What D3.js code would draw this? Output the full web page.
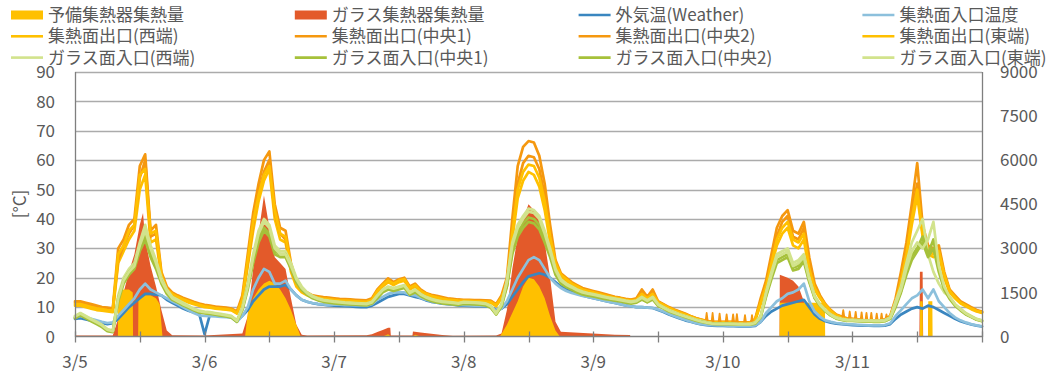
<!DOCTYPE html>
<html><head><meta charset="utf-8">
<script src="https://cdn.jsdelivr.net/npm/d3@7"></script>
<style>
html,body{margin:0;padding:0;background:#fff;}
svg text{font-family:"Noto Sans CJK JP","Noto Sans",sans-serif;fill:#595959;}
</style></head>
<body>
<svg id="chart" width="1051" height="376"></svg>
<script>
// ---------- data (hourly from 3/5 00:00, 169 points) ----------
const dayLabels = ["3/5","3/6","3/7","3/8","3/9","3/10","3/11"];
const leftTicks = [0,10,20,30,40,50,60,70,80,90];
const rightTicks = [0,1500,3000,4500,6000,7500,9000];

const outdoor = [
 6,6.2,5.8,5.4,5,4.6, 4.2,4.5,6,8,10,11.5, 13,14.5,14.5,14.2,14,12.5, 11.5,10.5,9.5,8.8,8.2,7.8,
 0.8,7.5,7.3,7.1,6.9,6.7, 5.5,7,9,12,14,16, 17,17,17,17.5,16,14, 12.5,11.8,11.3,11,10.8,10.6,
 10.5,10.4,10.3,10.2,10.1,10, 10,10.5,11.5,12.5,13.5,14, 14.5,14.5,14,13.5,13,12.3, 11.8,11.5,11.2,11,10.8,10.6,
 10.5,10.4,10.3,10.3,10.2,10.1, 9,9.5,11,13.5,16,18.5, 20.5,21,21.5,21,20,18.5, 17,16,15.2,14.6,14,13.5,
 13,12.6,12.2,11.8,11.4,11, 10.6,10.3,10,10,9.8,9.7, 9,8.3,7.5,6.8,6.1,5.5, 5,4.5,4.1,3.9,3.7,3.6,
 3.6,3.5,3.5,3.4,3.4,3.4, 3.6,5,7,8.5,9.5,10.5, 11,11.5,12,12.5,10,7.5, 6,5.2,4.7,4.4,4.2,4,
 3.9,3.8,3.7,3.7,3.6,3.6, 3.7,4.2,6,7.5,8.5,9.5, 10,9.5,10.5,10,9,8, 7,6,5.2,4.6,4.1,3.7, 3.4];

const inletTemp = [
 6.5,7,6.5,6,5.5,5, 4.6,4.8,7,9,11,13, 16,18,16,15,14,13, 12,11,10,9,8,7.2,
 7,6.9,6.8,6.7,6.6,6.4, 5,7,10,16,20,23, 22,18,18,19,16,14, 12.5,11.8,11.4,11.1,10.9,10.7,
 10.8,10.8,10.7,10.7,10.6,10.6, 10.5,11,12.5,13.5,14.5,15, 15,15,14.2,14,13.2,12.5, 12,11.6,11.3,11.1,10.9,10.8,
 10.7,10.6,10.5,10.5,10.4,10.3, 8.5,9.5,12,16,20,23, 26,27,26,23,20,18, 16.5,15.5,14.8,14.3,13.8,13.5,
 13,12.6,12.2,11.8,11.4,11, 10.6,10.3,10,10,9.8,9.7, 9.2,8.5,7.7,7,6.3,5.7, 5.1,4.6,4.2,4,3.9,3.8,
 3.8,3.7,3.7,3.6,3.6,3.6, 3.8,5,8,10,12,13, 14.5,15,16,18,12,8.5, 6.7,5.5,5,4.6,4.4,4.2,
 4.1,4,3.9,3.8,3.8,3.8, 3.9,4.5,7,9,11,13, 14,16,13,16,12,10, 8,6.5,5.5,4.8,4.2,3.8, 3.5];

const outWest = [
 10.5,10.5,10,9.5,9,8.8, 8.5,8.3,25,29,33,36, 50,55,32,33,20,15.5, 14,13,12.3,11.6,11,10.5,
 10,9.8,9.5,9.3,9.1,8.9, 7.8,12,24,36,46,53, 57,40,33,32,22,17, 15,14,13.3,12.9,12.6,12.4,
 12.2,12,11.9,11.8,11.7,11.6, 11.5,12.2,15,17,18.5,17.5, 18.5,19,16,17,15,14, 13.5,13,12.6,12.3,12.1,11.9,
 11.8,11.8,11.7,11.7,11.6,11.5, 10.3,13,17,33,47,53, 56,55,51,43,32,24, 20,18.8,17.5,16.5,15.7,15.2,
 14.7,14.3,13.8,13.4,13,12.7, 12.3,12.1,12.3,13.5,12.8,13.8, 11.5,10.5,9.5,8.7,8,7.3, 6.6,5.9,5.4,5,4.7,4.7,
 4.7,4.7,4.7,4.5,4.5,4.5, 5.5,11,16,24,31,35, 37,31,30,33,22,16, 13,10.5,8.5,7,6.3,5.8,
 5.7,5.5,5.3,5.2,5.2,5.2, 5.5,6.5,11,18,27,38, 48,34,28,27,28,20, 15,13,11.3,10.3,9.3,8.5, 8];

const outCenter1 = [
 12,12,11.5,11,10.5,10, 9.8,9.5,30,33,38,40, 58,62,36,38,22,17, 15,14,13.2,12.5,11.8,11.2,
 10.8,10.5,10.2,10,9.8,9.5, 8.5,14,28,42,52,60, 63,45,37,36,25,19, 16,15,14,13.7,13.4,13.2,
 13,12.8,12.7,12.6,12.5,12.4, 12.3,13,16,18,19.8,18.5, 19.5,20,17,18,16,14.8, 14.2,13.8,13.4,13,12.8,12.6,
 12.5,12.5,12.4,12.4,12.3,12.2, 11,14,20,40,58,64.5, 66.5,66,61.5,52,38,26, 21.5,20,18.5,17.5,16.5,16,
 15.5,15,14.5,14,13.5,13.2, 12.8,12.6,13,16,13.5,16, 12,11,10,9.2,8.5,7.8, 7,6.3,5.8,5.3,5,5,
 5,5,5,4.8,4.8,4.8, 6,13,19,28,37,41, 43,36,35,39,27,18, 14,11,9,7.5,6.8,6.2,
 6,5.8,5.6,5.5,5.5,5.5, 5.8,7,13,22,32,45, 59,38,31,30,31,22, 16,14,12,11,10,9, 8.5];

const outCenter2 = [
 11.5,11.5,11,10.5,10,9.6, 9.4,9.2,26,31,35,38, 54,60,34,35,21,16.5, 14.5,13.6,12.9,12.2,11.5,11,
 10.5,10.2,10,9.8,9.6,9.3, 8.3,13,25,38,49,56, 60,42,35,33,23,18, 15.5,14.5,13.7,13.4,13.1,12.9,
 12.7,12.5,12.4,12.3,12.2,12.1, 12,12.6,15.5,17.5,19,18, 19,19.5,16.5,17.5,15.5,14.5, 14,13.5,13.1,12.8,12.6,12.4,
 12.3,12.3,12.2,12.2,12.1,12, 10.8,13.5,18,36,52,59, 61.5,61,57,48,35,25, 21,19.5,18,17,16.2,15.7,
 15.2,14.7,14.2,13.8,13.3,13, 12.6,12.4,12.6,15,13.2,15, 11.8,10.8,9.8,9,8.3,7.6, 6.9,6.2,5.7,5.2,4.9,4.9,
 4.9,4.9,4.9,4.7,4.7,4.7, 5.8,12,18,26,34,39, 41,34,33,37,25,17, 13.5,10.8,8.8,7.3,6.6,6,
 5.9,5.7,5.5,5.4,5.4,5.4, 5.7,6.8,12,20,30,42, 52,36,30,29,30,21, 15.5,13.5,11.7,10.7,9.7,8.8, 8.3];

const outEast = [
 11,11,10.5,10,9.6,9.3, 9,8.8,28,31,36,38, 55,57,35,36,21,16, 14.5,13.5,12.7,12,11.3,10.8,
 10.3,10,9.7,9.5,9.3,9.1, 8,12.5,26,39,48,55, 58,43,35,34,24,18, 15.5,14.5,13.6,13.2,12.9,12.7,
 12.5,12.3,12.2,12.1,12,11.9, 11.8,12.4,15.5,17.5,19,18, 19,19.5,16.5,17.5,15.5,14.5, 13.8,13.3,12.9,12.6,12.4,12.2,
 12.1,12.1,12,12,11.9,11.8, 10.6,13.2,18,35,50,56, 58.5,58,54,46,34,25, 21,19.5,18,17,16,15.5,
 15,14.5,14,13.6,13.2,12.9, 12.5,12.3,12.5,14.5,13,14.5, 11.7,10.7,9.7,8.9,8.2,7.5, 6.8,6.1,5.6,5.1,4.8,4.8,
 4.8,4.8,4.8,4.6,4.6,4.6, 5.7,11.5,17,25,33,37, 39,33,32,35,23,16.5, 13.2,10.7,8.7,7.2,6.5,5.9,
 5.8,5.6,5.4,5.3,5.3,5.3, 5.6,6.7,11.5,19,28,40, 50,35,29,28,29,21, 15.5,13.3,11.5,10.5,9.5,8.7, 8.2];

const glassWest = [
 7,8,7,6,5,4, 2.5,2,14,20,23,25, 32,38,31,26,20,16, 13.5,12.5,11.5,10.5,9.5,8.8,
 8.5,8.3,8,7.7,7.4,7, 5.5,10,18,28,36,40, 38,31,29,29,25,20, 17,15,13.8,13,12.5,12.2,
 12,11.8,11.6,11.5,11.4,11.3, 11.2,11.8,14,16,17,16.5, 17,17.5,15,16,14.5,13.5, 12.8,12.3,12,11.8,11.6,11.4,
 11.8,11.7,11.6,11.5,11.3,10.5, 8,11,19,32,38,41, 43.5,43,41,36,30,23, 19.5,18,17,16,15.3,14.8,
 14.4,14,13.6,13.2,12.9,12.6, 12.2,11.9,12.2,13.5,12.3,13.5, 11,10,9,8.3,7.6,7, 6.4,5.8,5.3,4.9,4.6,4.5,
 4.5,4.5,4.4,4.3,4.3,4.3, 4.8,7,15,22,28,29, 30,25,26,28,20,14, 11,9,7.5,6.5,6,5.7,
 5.7,5.6,5.5,5.5,5.4,5.4, 5.6,6.5,12,17,25,32, 36,40,28,22,18,15, 13.5,11,9.5,8,7,6, 5.5];

const glassCenter1 = [
 6.2,7.2,6.2,5.2,4.2,3.2, 1.8,1.5,12,18,21,23, 29,33,27,23,18,14.5, 12.5,11.6,10.6,9.8,8.9,8.2,
 7.9,7.7,7.4,7.1,6.8,6.4, 5,9,16,25,32,36, 34,28,27,27,23,18.5, 15.8,14.2,13,12.3,11.8,11.5,
 11.3,11.1,11,10.9,10.8,10.7, 10.6,11.2,13,15,16,15.5, 16,16.5,14.2,15,13.8,12.8, 12.1,11.6,11.3,11.1,10.9,10.7,
 11.1,11,10.9,10.8,10.6,9.8, 7.5,10.2,17,28,34,37, 39,38.5,36.5,32,27,21, 18,16.8,15.9,15,14.3,13.9,
 13.6,13.2,12.8,12.5,12.2,11.9, 11.5,11.2,11.5,12.6,11.6,12.6, 10.4,9.5,8.5,7.8,7.2,6.6, 6,5.4,5,4.6,4.3,4.2,
 4.2,4.2,4.1,4,4,4, 4.4,6.5,13.5,19.5,25,26, 27,22.5,23,25.5,18.5,13, 10.4,8.5,7.1,6.1,5.6,5.3,
 5.3,5.2,5.1,5.1,5,5, 5.2,6,10,15,21,26, 29,32,27,30,22,16, 12.8,10.5,8.9,7.5,6.6,5.7, 5.2];

const glassCenter2 = [
 6.5,7.5,6.5,5.5,4.5,3.5, 2,1.7,13,19,22,24, 30,35,28,24,19,15, 12.8,11.8,10.8,10,9.1,8.4,
 8.1,7.9,7.6,7.3,7,6.6, 5.1,9.3,17,26,34,37, 35,29,28,28,23.5,19, 16,14.4,13.2,12.5,12,11.7,
 11.5,11.3,11.2,11.1,11,10.9, 10.8,11.4,13.4,15.4,16.4,15.9, 16.4,16.9,14.5,15.4,14,13, 12.3,11.8,11.5,11.3,11.1,10.9,
 11.3,11.2,11.1,11,10.8,10, 7.6,10.5,17.5,29,35.5,38.5, 40.5,40,38,33.5,28,21.7, 18.5,17.2,16.3,15.3,14.6,14.2,
 13.9,13.5,13.1,12.7,12.4,12.1, 11.7,11.4,11.7,12.9,11.8,12.9, 10.6,9.7,8.7,8,7.3,6.7, 6.1,5.5,5.1,4.7,4.4,4.3,
 4.3,4.3,4.2,4.1,4.1,4.1, 4.5,6.7,14,20.5,26,27, 28,23.5,24,26.5,19,13.3, 10.6,8.7,7.2,6.2,5.7,5.4,
 5.4,5.3,5.2,5.2,5.1,5.1, 5.3,6.1,10.5,15.5,22,27.5, 30,34,28,33,23,16.5, 13.2,10.8,9.1,7.7,6.7,5.8, 5.3];

const glassEast = [
 6.8,7.8,6.8,5.8,4.8,3.8, 2.3,1.8,13,19,22,24, 31,36,30,25,19,15.5, 13,12,11,10.2,9.3,8.6,
 8.3,8.1,7.8,7.5,7.2,6.8, 5.3,9.5,17,27,35,39, 37,30,28,28,24,19.5, 16.5,14.7,13.5,12.8,12.3,12,
 11.8,11.6,11.4,11.3,11.2,11.1, 11,11.6,13.8,15.8,16.8,16.3, 16.8,17.3,14.8,15.8,14.3,13.3, 12.6,12.1,11.8,11.6,11.4,11.2,
 11.6,11.5,11.4,11.3,11.1,10.3, 7.8,10.8,18.5,31,37,40, 42.5,42,40,35,29,22.5, 19,17.6,16.7,15.7,15,14.6,
 14.2,13.8,13.4,13,12.7,12.4, 12,11.7,12,13.2,12.1,13.2, 10.8,9.8,8.8,8.1,7.4,6.8, 6.2,5.6,5.1,4.7,4.4,4.3,
 4.3,4.3,4.2,4.1,4.1,4.1, 4.6,6.8,14.5,21,27,28, 29,24,25,27,19.5,13.5, 10.7,8.8,7.3,6.3,5.8,5.5,
 5.5,5.4,5.3,5.3,5.2,5.2, 5.4,6.3,11,16,23,29, 32,30,33,39,24,17, 13.5,11,9.3,7.8,6.8,5.9, 5.4];

// heat amounts (right axis), irregular readings: [hour, value]
const spareHeat = [
 [0,0],[7.95,0],[8,1500],[9,1600],[10,1600],[10.7,1500],[10.75,0],[11.7,0],[11.75,1300],[13,1400],[14,1400],[15,1300],[15.7,1100],[16.2,0],
 [31.5,0],[32,800],[33,1300],[34,1600],[35,1800],[36,1900],[37,1800],[38,1600],[39,1300],[40,900],[41,400],[41.8,0],
 [57,0],[58,80],[58.5,0],[62.5,0],[63,60],[64,0],
 [78.7,0],[80,400],[81,800],[82,1200],[83,1700],[84,2000],[85,1950],[86,1700],[87,1300],[88,700],[89,200],[89.8,0],
 [130.5,0],[130.55,1150],[134,1150],[138.9,1150],[138.95,0],
 [156.5,0],[156.55,1200],[157,1200],[157.05,0],[158,0],[158.05,1200],[158.8,1200],[158.85,0],[168,0]];

const glassHeat = [
 [0,30],[7,30],[8,600],[9,1500],[10,2200],[11,2800],[12,3800],[12.6,4200],[13,3300],[14,2400],[15,1700],[16,900],[17,200],[18,40],
 [24,30],[31,100],[32,700],[33,2300],[34,3500],[35,4800],[36,3700],[37,2700],[38,2500],[39,2300],[40,1300],[41,400],[42,60],[43,30],
 [54,40],[55,80],[56,150],[57,220],[58,300],[58.4,300],[58.5,30],[62.5,30],[62.6,170],[64,140],[66,90],[68,50],[70,25],
 [78,30],[79,100],[80,900],[81,2300],[82,3400],[83,4000],[84,4500],[85,4300],[86,4000],[87,3200],[88,2000],[89,500],[90,160],[95,110],[100,60],[102.8,50],[102.9,0],
 [130.5,0],[130.55,2100],[132,2000],[133,1900],[134,1700],[135,1200],[136,600],[137,300],[138,100],[138.5,0],
 [156.4,0],[156.5,2200],[157,2200],[157.1,0],[158,0],[158.1,1000],[158.5,1000],[158.6,0],[168,0]];

// short night-time spikes of the outlet temperature
const spikeHours = [117.0,118.1,119.4,120.7,121.9,122.6,124.1,125.4, 142.3,143.5,144.6,145.7,146.6,147.5,148.5,149.4,150.3];
const spikeTops  = [8,8,7.8,7.5,7.5,7.6,7.3,7.3, 9,8.5,8.4,8.2,8,8,7.8,7.8,7.5];

const legendLabels = [
 "予備集熱器集熱量","ガラス集熱器集熱量","外気温(Weather)","集熱面入口温度",
 "集熱面出口(西端)","集熱面出口(中央1)","集熱面出口(中央2)","集熱面出口(東端)",
 "ガラス面入口(西端)","ガラス面入口(中央1)","ガラス面入口(中央2)","ガラス面入口(東端)"];

// ---------- styles ----------
const C = {yellow:"#FFC000", red:"#E35A2A", blue:"#3A86C0", lblue:"#8CC0DC",
           orange:"#F5980F", lgreen:"#D2E38C", olive:"#A6C13A"};
const legendStyle = [
 {t:"rect",c:C.yellow},{t:"rect",c:C.red},{t:"line",c:C.blue},{t:"line",c:C.lblue},
 {t:"line",c:C.yellow},{t:"line",c:C.orange},{t:"line",c:C.orange},{t:"line",c:C.yellow},
 {t:"line",c:C.lgreen},{t:"line",c:C.olive},{t:"line",c:C.olive},{t:"line",c:C.lgreen}];

const svg = d3.select("#chart");
const L = 75, R = 982, T = 72, B = 336.5;
const x = d3.scaleLinear().domain([0,168]).range([L,R]);
const yL = d3.scaleLinear().domain([0,90]).range([B,T]);
const yR = d3.scaleLinear().domain([0,9000]).range([B,T]);

// gridlines
svg.append("g").selectAll("line").data(leftTicks.filter(d=>d>0)).join("line")
  .attr("x1",L).attr("x2",R)
  .attr("y1",d=>Math.round(yL(d))+0.5).attr("y2",d=>Math.round(yL(d))+0.5)
  .attr("stroke","#ABABAB").attr("stroke-width",1.3);

// areas
const area = d3.area().x(d=>x(d[0])).y0(yR(0)).y1(d=>yR(d[1]));
svg.append("path").datum(glassHeat).attr("d",area).attr("fill",C.red);
svg.append("path").datum(spareHeat).attr("d",area).attr("fill",C.yellow);

// lines
const hours = d3.range(0,169);
const line = d3.line().x((d,i)=>x(hours[i])).y(d=>yL(d));
const series = [
 [outdoor,C.blue],[inletTemp,C.lblue],
 [outWest,C.yellow],[outCenter1,C.orange],[outCenter2,C.orange],[outEast,C.yellow],
 [glassWest,C.lgreen],[glassCenter1,C.olive],[glassCenter2,C.olive],[glassEast,C.lgreen]];
const gl = svg.append("g").attr("fill","none").attr("stroke-linejoin","round").attr("stroke-linecap","round");
series.forEach(([data,col],k)=>{
  gl.append("path").datum(data).attr("d",line).attr("stroke",col).attr("stroke-width",2.7);
  if(k===5){
    gl.selectAll("path.spike").data(spikeHours).join("path").attr("class","spike")
      .attr("d",(t,i)=>{const b=outCenter1[Math.round(t)];
        return `M${x(t-0.18)},${yL(b)}L${x(t)},${yL(spikeTops[i])}L${x(t+0.18)},${yL(b)}`;})
      .attr("stroke",C.orange).attr("stroke-width",1.8);
  }
});

// axes lines
svg.append("line").attr("x1",L+0.5).attr("x2",L+0.5).attr("y1",T).attr("y2",B+0.5).attr("stroke","#7F7F7F").attr("stroke-width",1.3);
svg.append("line").attr("x1",R+0.5).attr("x2",R+0.5).attr("y1",T).attr("y2",B+0.5).attr("stroke","#7F7F7F").attr("stroke-width",1.3);
svg.append("line").attr("x1",L).attr("x2",R+1).attr("y1",B).attr("y2",B).attr("stroke","#7F7F7F").attr("stroke-width",1.3);
svg.append("g").selectAll("line").data(d3.range(0,169,12)).join("line")
  .attr("x1",d=>Math.round(x(d))+0.5).attr("x2",d=>Math.round(x(d))+0.5)
  .attr("y1",B-5).attr("y2",B+6).attr("stroke","#7F7F7F").attr("stroke-width",1.3);

// tick labels
svg.append("g").selectAll("text").data(leftTicks).join("text")
  .attr("x",55).attr("y",d=>yL(d)).attr("dy","0.36em").attr("text-anchor","end")
  .attr("font-size",17).text(d=>d);
svg.append("g").selectAll("text").data(rightTicks).join("text")
  .attr("x",1000).attr("y",d=>yR(d)).attr("dy","0.36em").attr("text-anchor","start")
  .attr("font-size",17).text(d=>d);
svg.append("g").selectAll("text").data(dayLabels).join("text")
  .attr("x",(d,i)=>x(i*24)).attr("y",362).attr("dy","0.36em").attr("text-anchor","middle")
  .attr("font-size",17).text(d=>d);
svg.append("text").attr("transform","translate(20,204) rotate(-90)")
  .attr("text-anchor","middle").attr("dy","0.36em").attr("font-size",17).text("[°C]");

// legend
const lg = svg.append("g");
legendLabels.forEach((lab,i)=>{
  const col = i%4, row = Math.floor(i/4);
  const x0 = 11 + col*283.8, yc = 15 + row*21.3;
  const st = legendStyle[i];
  if(st.t==="rect") lg.append("rect").attr("x",x0).attr("y",yc-4.5).attr("width",32).attr("height",9).attr("fill",st.c);
  else lg.append("line").attr("x1",x0).attr("x2",x0+32).attr("y1",yc).attr("y2",yc).attr("stroke",st.c).attr("stroke-width",2.6);
  lg.append("text").attr("x",x0+37).attr("y",yc).attr("dy","0.36em").attr("font-size",17).text(lab);
});
</script>
</body></html>
